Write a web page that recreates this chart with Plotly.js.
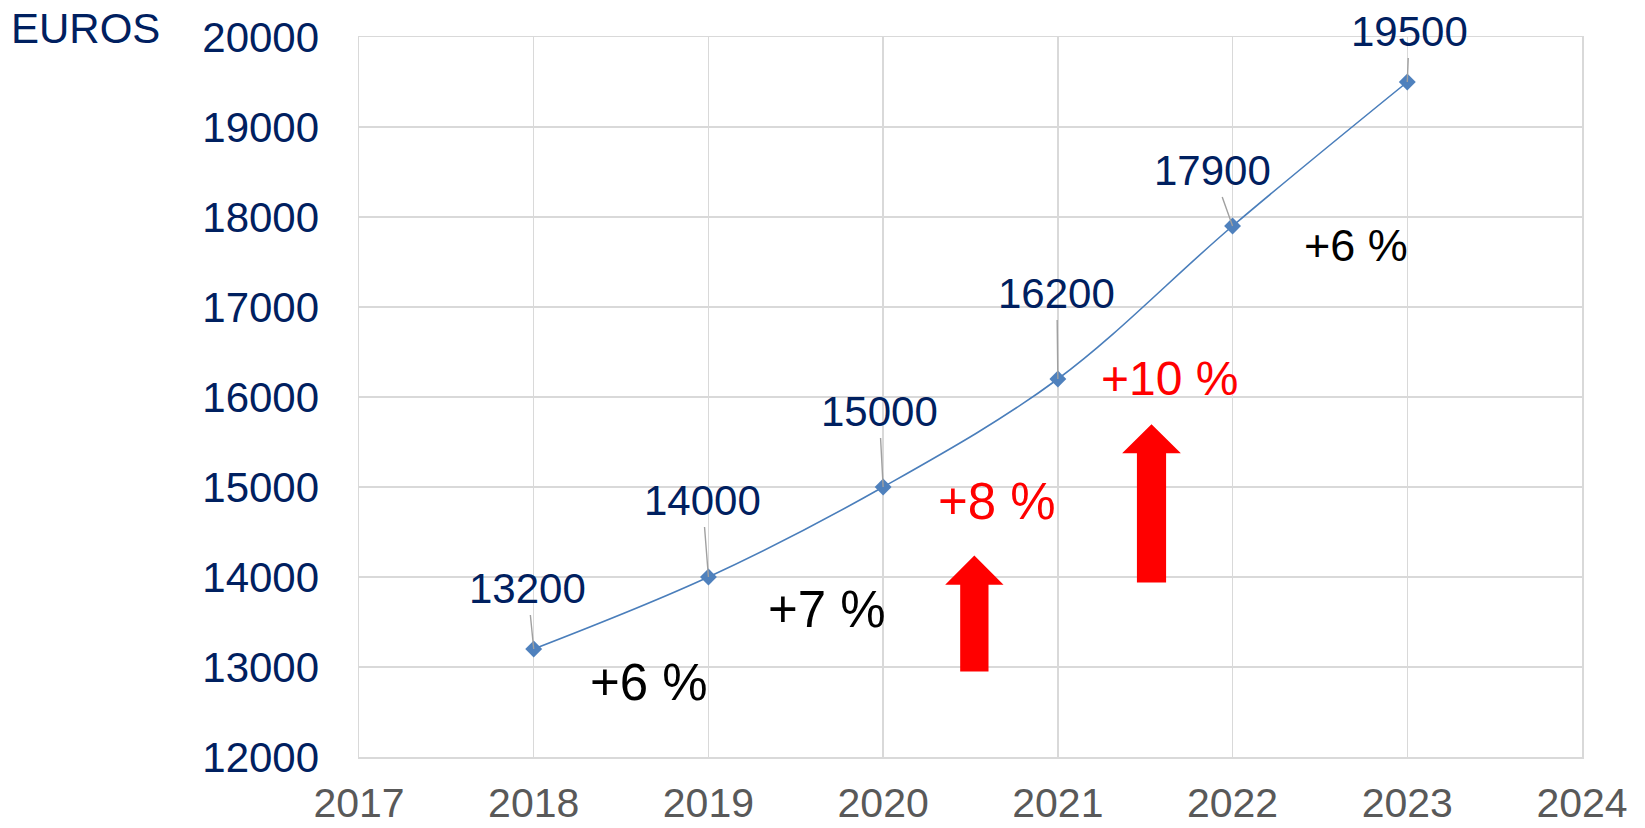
<!DOCTYPE html>
<html>
<head>
<meta charset="utf-8">
<script src="https://cdn.plot.ly/plotly-3.0.1.min.js"></script>
<style>html,body{margin:0;padding:0;background:#fff;}#chart{width:1645px;height:828px;}</style>
</head>
<body>
<div id="chart"></div>
<script>
// ---- data ----
const years = [2018, 2019, 2020, 2021, 2022, 2023];
const values = [13200, 14000, 15000, 16200, 17900, 19500];
const growthLabels = ['+6 %', '+7 %', '+8 %', '+10 %', '+6 %'];
const growthColors = ['#000000', '#000000', '#ff0000', '#ff0000', '#000000'];
const xTicks = [2017, 2018, 2019, 2020, 2021, 2022, 2023, 2024];
const yTicks = [12000, 13000, 14000, 15000, 16000, 17000, 18000, 19000, 20000];
const unitLabel = 'EUROS';

// ---- layout helpers (positions / styles) ----
const FONT = 'Arial, "Liberation Sans", sans-serif';
const NAVY = '#002060';
const labelOffsets = [[-6, -61], [-6, -77], [-4, -76], [-1, -86], [-20, -56], [2, -51]];
const growthPos = [[2018.661, 12827], [2019.680, 13637], [2020.652, 14836], [2021.637, 16201], [2022.707, 17688]];
const growthSizes = [51, 51, 51, 48, 45];
const arrows = [
  {cx: 2020.522, bottom: 12949, headBase: 13915, tip: 14240, shaft: 0.081, head: 0.167},
  {cx: 2021.536, bottom: 13940, headBase: 15376, tip: 15698, shaft: 0.0835, head: 0.168}
];

const trace = {
  x: years, y: values, type: 'scatter', mode: 'lines+markers',
  line: {color: '#4a7ebb', width: 1.6, shape: 'spline', smoothing: 1},
  marker: {symbol: 'diamond', size: 13, color: '#4f81bd'},
  hoverinfo: 'x+y'
};

const annotations = [];
years.forEach((yr, i) => {
  annotations.push({
    x: yr, y: values[i], xref: 'x', yref: 'y',
    text: String(values[i]),
    showarrow: true, arrowhead: 0, arrowwidth: 1.4, arrowcolor: '#a0a0a0',
    ax: labelOffsets[i][0], ay: labelOffsets[i][1], standoff: 0, borderpad: 3,
    font: {family: FONT, size: 42, color: NAVY}
  });
});
growthLabels.forEach((t, i) => {
  annotations.push({
    x: growthPos[i][0], y: growthPos[i][1], xref: 'x', yref: 'y',
    text: t, showarrow: false, xanchor: 'center', yanchor: 'middle',
    font: {family: FONT, size: growthSizes[i], color: growthColors[i]}
  });
});
annotations.push({
  x: -0.2862, y: 1.0114, xref: 'paper', yref: 'paper',
  text: unitLabel, showarrow: false, xanchor: 'left', yanchor: 'middle',
  font: {family: FONT, size: 42, color: NAVY}
});

const shapes = arrows.map(a => ({
  type: 'path', xref: 'x', yref: 'y', layer: 'above',
  fillcolor: '#ff0000', line: {width: 0},
  path: `M ${a.cx - a.shaft} ${a.bottom} L ${a.cx - a.shaft} ${a.headBase} L ${a.cx - a.head} ${a.headBase} ` +
        `L ${a.cx} ${a.tip} L ${a.cx + a.head} ${a.headBase} L ${a.cx + a.shaft} ${a.headBase} ` +
        `L ${a.cx + a.shaft} ${a.bottom} Z`
}));

const layout = {
  width: 1645, height: 828,
  margin: {l: 359, r: 63, t: 37, b: 71, pad: 0},
  paper_bgcolor: '#ffffff', plot_bgcolor: '#ffffff',
  showlegend: false,
  font: {family: FONT},
  xaxis: {
    range: [2017, 2024], tickvals: xTicks, ticktext: xTicks.map(String),
    showgrid: true, gridcolor: '#d9d9d9', gridwidth: 1.5,
    showline: true, linecolor: '#d9d9d9', linewidth: 1.5, mirror: true,
    zeroline: false, ticks: '', ticklabelstandoff: 9,
    tickfont: {family: FONT, size: 41, color: '#595959'},
    automargin: false, fixedrange: true
  },
  yaxis: {
    range: [12000, 20000], tickvals: yTicks, tickformat: 'd',
    showgrid: true, gridcolor: '#d9d9d9', gridwidth: 1.5,
    showline: true, linecolor: '#d9d9d9', linewidth: 1.5, mirror: true,
    zeroline: false, ticks: '', ticklabelstandoff: 30,
    tickfont: {family: FONT, size: 42, color: NAVY},
    automargin: false, fixedrange: true
  },
  annotations: annotations,
  shapes: shapes
};

Plotly.newPlot('chart', [trace], layout, {displayModeBar: false, staticPlot: true});
</script>
</body>
</html>
